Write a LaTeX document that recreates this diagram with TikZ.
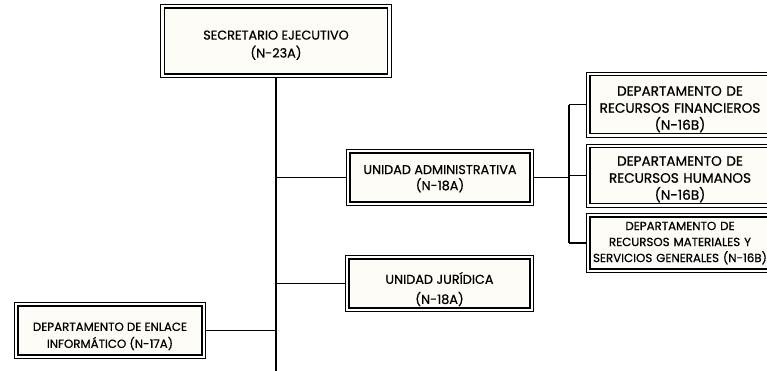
\documentclass[tikz,border=0pt]{standalone}
\usepackage{fontspec}
\setmainfont{Poppins}[FakeBold=0.6]
\usetikzlibrary{calc}

\definecolor{boxfill}{RGB}{253,252,247}
\newcommand\lift[1]{\rule{0pt}{#1}}
\tikzset{
  unit/.style = {draw, line width=1.5pt, fill=boxfill, align=center, inner sep=1pt,
    font=\fontsize{12.8}{18}\selectfont},
  deptunit/.style = {unit, font=\fontsize{13.6}{17}\selectfont},
  frame/.style = {line width=0.9pt},
  link/.style = {line width=1.3pt}
}

\begin{document}
\begin{tikzpicture}[x=1pt, y=-1pt]
    \useasboundingbox (0, 0) rectangle (767, 370);
    \clip (0, 0) rectangle (767, 370);
    \fill [white] (0, 0) rectangle (767, 370);
    \node [unit, minimum width=223pt, minimum height=66pt] (sec) at (276, 41)
      {\lift{17.5pt}SECRETARIO EJECUTIVO\\(N-23A)};
    \node [unit, font=\fontsize{12.8}{16}\selectfont, minimum width=180pt, minimum height=49pt] (ua) at (440, 177.5)
      {\lift{11.5pt}UNIDAD ADMINISTRATIVA\\(N-18A)};
    \node [unit, font=\fontsize{12.8}{20}\selectfont, minimum width=181pt, minimum height=49pt] (uj) at (439.5, 283.5)
      {\lift{23pt}UNIDAD JURÍDICA\\(N-18A)};
    \node [unit, font=\fontsize{11.8}{17}\selectfont, minimum width=184pt, minimum height=49pt] (enl) at (110, 330.5)
      {\lift{20pt}DEPARTAMENTO DE ENLACE\\INFORMÁTICO (N-17A)};
    \node [deptunit, minimum width=180pt, minimum height=49pt, text width=176pt] (fin) at (680, 104.5)
      {\lift{19pt}DEPARTAMENTO DE\\RECURSOS FINANCIEROS\\(N-16B)};
    \node [deptunit, minimum width=180pt, minimum height=49pt, text width=176pt] (hum) at (680, 175.5)
      {\lift{17pt}DEPARTAMENTO DE\\RECURSOS HUMANOS\\(N-16B)};
    \node [deptunit, font=\fontsize{11.8}{16}\selectfont, minimum width=180pt, minimum height=52pt, text width=176pt] (mat) at (680, 243)
      {DEPARTAMENTO DE\\RECURSOS MATERIALES Y\\SERVICIOS GENERALES (N-16B)};
%    outer line of the double frames
    \foreach \n in {sec, ua, uj, enl, fin, hum, mat} {
      \draw [frame] ($(\n.north west) + (-3, -3)$) rectangle ($(\n.south east) + (3, 3)$);
    }
    \coordinate (bot) at (276, 372);
    \coordinate (br) at (569, 177.5);
    \draw [link, shorten <=3pt] (sec.south) -- (bot);
    \draw [link, shorten <=3pt] (ua.west) -- (ua.west -| sec.south);
    \draw [link, shorten <=3pt] (uj.west) -- (uj.west -| sec.south);
    \draw [link, shorten <=3pt] (enl.east) -- (enl.east -| sec.south);
    \draw [link, shorten <=3pt] (ua.east) -- (br);
    \draw [link] (br |- fin.west) -- (br |- mat.west);
    \foreach \n in {fin, hum, mat} {
      \draw [link, shorten >=3pt] (br |- \n.west) -- (\n.west);
    }
  \end{tikzpicture}
\end{document}
